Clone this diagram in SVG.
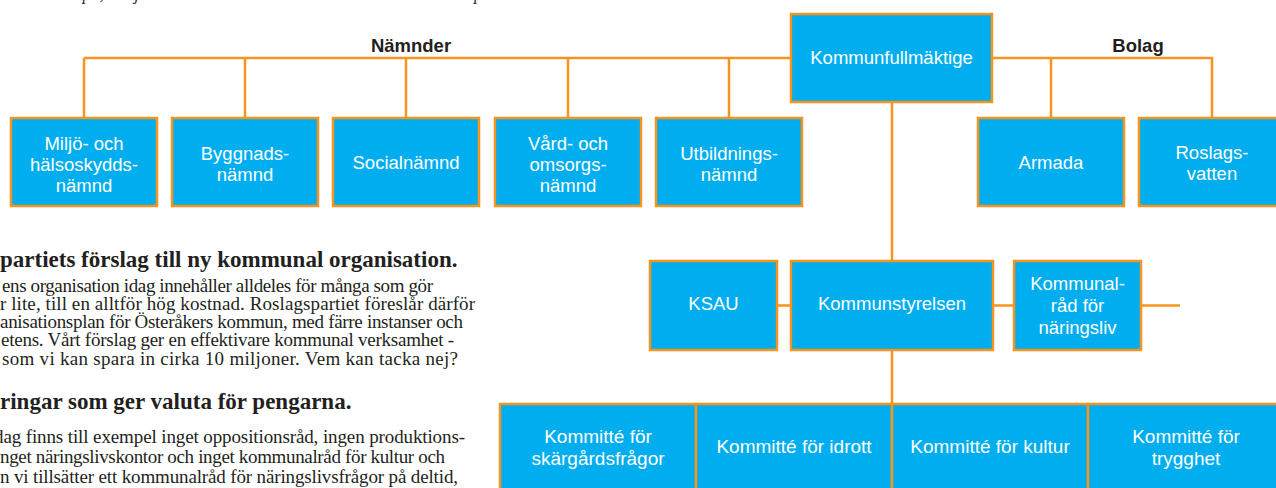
<svg xmlns="http://www.w3.org/2000/svg" width="1276" height="488" viewBox="0 0 1276 488">
<style>
.box{fill:#00AEEF;stroke:#F7941E;stroke-width:2.5}
.bt{font-family:"Liberation Sans",Arial,sans-serif;font-size:18.5px;fill:#fff;text-anchor:middle}
.bb{font-size:19px}
.conn{stroke:#F7941E;stroke-width:2.5;fill:none}
.hdr{font-family:"Liberation Sans",Arial,sans-serif;font-weight:bold;font-size:18.5px;fill:#231F20;text-anchor:middle}
.ttl{font-family:"Liberation Serif","Times New Roman",serif;font-weight:bold;font-size:23px;fill:#231F20}
.body{font-family:"Liberation Serif","Times New Roman",serif;font-size:19px;fill:#231F20}
.ital{font-family:"Liberation Serif","Times New Roman",serif;font-style:italic;font-size:17px;fill:#231F20}
</style>
<rect width="1276" height="488" fill="#fff"/>
<g id="intro-text">
<text class="ital" x="0" y="-0.5" textLength="495">ulla ta vara på, ska jobba och bestämma över det de vet att de är bäst på.</text>
<text class="ttl" x="0" y="267">partiets förslag till ny kommunal organisation.</text>
<text class="body" x="2" y="292" textLength="431">ens organisation idag innehåller alldeles för många som gör</text>
<text class="body" x="0" y="310" textLength="475">r lite, till en alltför hög kostnad. Roslagspartiet föreslår därför</text>
<text class="body" x="0" y="328" textLength="463">anisationsplan för Österåkers kommun, med färre instanser och</text>
<text class="body" x="1" y="346" textLength="453">etens. Vårt förslag ger en effektivare kommunal verksamhet -</text>
<text class="body" x="2" y="365" textLength="456">som vi kan spara in cirka 10 miljoner. Vem kan tacka nej?</text>
<text class="ttl" x="0" y="409">ringar som ger valuta för pengarna.</text>
<text class="body" x="-6" y="443" textLength="471">dag finns till exempel inget oppositionsråd, ingen produktions-</text>
<text class="body" x="0" y="463" textLength="445">nget näringslivskontor och inget kommunalråd för kultur och</text>
<text class="body" x="0" y="483" textLength="458">n vi tillsätter ett kommunalråd för näringslivsfrågor på deltid,</text>
</g>
<g id="connectors">
<path class="conn" d="M84 58H791M84 58V118M245 58V118M406 58V118M568 58V118M729 58V118"/>
<path class="conn" d="M992 58H1212V118M1051 58V118"/>
<path class="conn" d="M892 102V261M892 350V404"/>
<path class="conn" d="M777 305.5H791M993 305.5H1014M1141 305.5H1180"/>
</g>
<g id="labels">
<text class="hdr" x="411" y="52">Nämnder</text>
<text class="hdr" x="1138" y="52">Bolag</text>
</g>
<g id="kommunfullmaktige"><rect class="box" x="791" y="14" width="201" height="88"/><text class="bt" x="891.5" y="64">Kommunfullmäktige</text></g>
<g id="miljo"><rect class="box" x="11" y="118" width="146" height="88"/><text class="bt" x="84" y="150">Miljö- och</text><text class="bt" x="84" y="171">hälsoskydds-</text><text class="bt" x="84" y="192">nämnd</text></g>
<g id="byggnad"><rect class="box" x="172" y="118" width="146" height="88"/><text class="bt" x="245" y="160">Byggnads-</text><text class="bt" x="245" y="181">nämnd</text></g>
<g id="social"><rect class="box" x="333" y="118" width="146" height="88"/><text class="bt" x="406" y="168.5">Socialnämnd</text></g>
<g id="vard"><rect class="box" x="495" y="118" width="146" height="88"/><text class="bt" x="568" y="150">Vård- och</text><text class="bt" x="568" y="171">omsorgs-</text><text class="bt" x="568" y="192">nämnd</text></g>
<g id="utbildning"><rect class="box" x="656" y="118" width="146" height="88"/><text class="bt" x="729" y="160">Utbildnings-</text><text class="bt" x="729" y="181">nämnd</text></g>
<g id="armada"><rect class="box" x="978" y="118" width="146" height="88"/><text class="bt" x="1051" y="168.5">Armada</text></g>
<g id="roslagsvatten"><rect class="box" x="1139" y="118" width="146" height="88"/><text class="bt" x="1212" y="158.5">Roslags-</text><text class="bt" x="1212" y="180">vatten</text></g>
<g id="ksau"><rect class="box" x="650" y="261" width="127" height="89"/><text class="bt" x="713.5" y="309.5">KSAU</text></g>
<g id="kommunstyrelsen"><rect class="box" x="791" y="261" width="202" height="89"/><text class="bt" x="892" y="309.5">Kommunstyrelsen</text></g>
<g id="kommunalrad"><rect class="box" x="1014" y="261" width="127" height="89"/><text class="bt" x="1077.5" y="289.5">Kommunal-</text><text class="bt" x="1077.5" y="311.5">råd för</text><text class="bt" x="1077.5" y="333.5">näringsliv</text></g>
<g id="skargard"><rect class="box" x="500" y="404" width="196" height="90"/><text class="bt bb" x="598" y="443">Kommitté för</text><text class="bt bb" x="598" y="465">skärgårdsfrågor</text></g>
<g id="idrott"><rect class="box" x="696" y="404" width="196" height="90"/><text class="bt bb" x="794" y="453">Kommitté för idrott</text></g>
<g id="kultur"><rect class="box" x="892" y="404" width="196" height="90"/><text class="bt bb" x="990" y="453">Kommitté för kultur</text></g>
<g id="trygghet"><rect class="box" x="1088" y="404" width="196" height="90"/><text class="bt bb" x="1186" y="443">Kommitté för</text><text class="bt bb" x="1186" y="465">trygghet</text></g>
</svg>
